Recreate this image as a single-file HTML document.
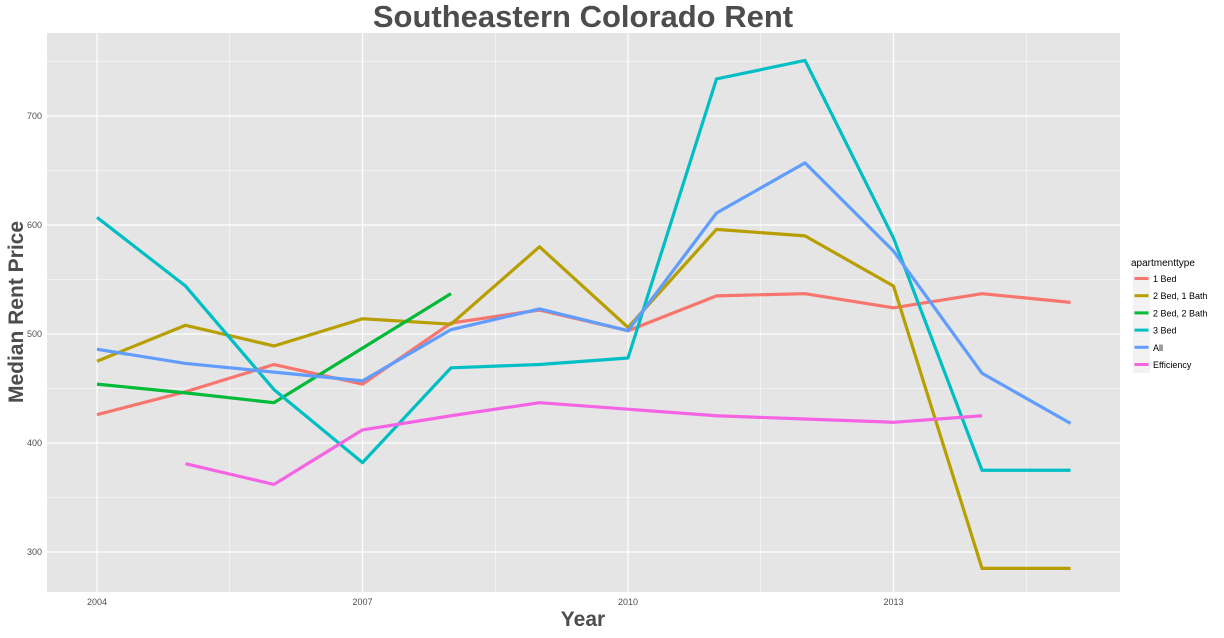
<!DOCTYPE html>
<html><head><meta charset="utf-8"><style>
body{margin:0;background:#fff;}
svg text{font-family:"Liberation Sans",sans-serif;}
</style></head><body>
<svg width="1224" height="633" xmlns="http://www.w3.org/2000/svg">
<text x="583" y="27" text-anchor="middle" font-size="31" font-weight="bold" fill="#4d4d4d">Southeastern Colorado Rent</text>
<rect x="47" y="33" width="1073" height="559" fill="#e5e5e5"/>
<g id="grid"></g>
<g id="series"></g>
<g id="axes"></g>
<text x="583" y="626" text-anchor="middle" font-size="21" font-weight="bold" fill="#4d4d4d">Year</text>
<text transform="translate(23,312) rotate(-90)" text-anchor="middle" font-size="21" font-weight="bold" fill="#4d4d4d">Median Rent Price</text>
<g id="legend"></g>
</svg>
<script>
const years=[2004,2005,2006,2007,2008,2009,2010,2011,2012,2013,2014,2015];
const seriesNames=["1 Bed","2 Bed, 1 Bath","2 Bed, 2 Bath","3 Bed","All","Efficiency"];
const colors=["#f8766d","#b79f00","#00ba38","#00bfc4","#619cff","#f564e3"];
const oneBed=[426,447,472,454,510,522,503,535,537,524,537,529];
const twoBedOneBath=[475,508,489,514,509,580,506,596,590,544,285,285];
const twoBedTwoBath=[454,446,437,487,537,null,null,null,null,null,null,null];
const threeBed=[607,544,449,382,469,472,478,734,751,588,375,375];
const allTypes=[486,473,465,457,504,523,503,611,657,576,464,418];
const efficiency=[null,381,362,412,425,437,431,425,422,419,425,null];
const xTicks=[2004,2007,2010,2013];
const yTicks=[300,400,500,600,700];
const values=[oneBed,twoBedOneBath,twoBedTwoBath,threeBed,allTypes,efficiency];
const ns="http://www.w3.org/2000/svg";
const X=v=>97+(v-2004)*88.5;
const Y=v=>552-(v-300)*1.09;
const grid=document.getElementById('grid'),ser=document.getElementById('series'),axes=document.getElementById('axes'),leg=document.getElementById('legend');
function mk(tag,a,p){const e=document.createElementNS(ns,tag);for(const k in a)e.setAttribute(k,a[k]);p.appendChild(e);return e;}
for(let v=250;v<=750;v+=50){const y=Y(v);if(y<33||y>592)continue;
const l=mk('line',{x1:47,x2:1120,y1:y,y2:y,stroke:'#fff','stroke-width':yTicks.includes(v)?1.2:0.5},grid);

}
for(let v=2002.5;v<=2016;v+=1.5){const x=X(v);if(x<47||x>1120)continue;
const l=mk('line',{x1:x,x2:x,y1:33,y2:592,stroke:'#fff','stroke-width':xTicks.includes(v)?1.2:0.5},grid);

}
xTicks.forEach(t=>{const e=mk('text',{x:X(t),y:605,'text-anchor':'middle','font-size':9,fill:'#4d4d4d'},axes);e.textContent=t;

});
yTicks.forEach(t=>{const e=mk('text',{x:42,y:Y(t)+3,'text-anchor':'end','font-size':9,fill:'#4d4d4d'},axes);e.textContent=t;

});
values.forEach((arr,i)=>{let d='';let pen=false;arr.forEach((v,j)=>{if(v==null){pen=false;return;}d+=(pen?'L':'M')+X(years[j])+','+Y(v);pen=true;});
const p=mk('path',{d:d,fill:'none',stroke:colors[i],'stroke-width':3.2,'stroke-linejoin':'round'},ser);

});
const lt=mk('text',{x:1131,y:266,'font-size':10,fill:'#000'},leg);lt.textContent='apartmenttype';


seriesNames.forEach((n,i)=>{const y=270+i*17.2;
const g=mk('g',{},leg);


mk('rect',{x:1133,y:y,width:17,height:17,fill:'#f2f2f2'},g);
mk('line',{x1:1134.5,x2:1148.5,y1:y+8.5,y2:y+8.5,stroke:colors[i],'stroke-width':3},g);
const t=mk('text',{x:1153,y:y+12,'font-size':9,fill:'#000'},g);t.textContent=n;});
</script>
</body></html>
